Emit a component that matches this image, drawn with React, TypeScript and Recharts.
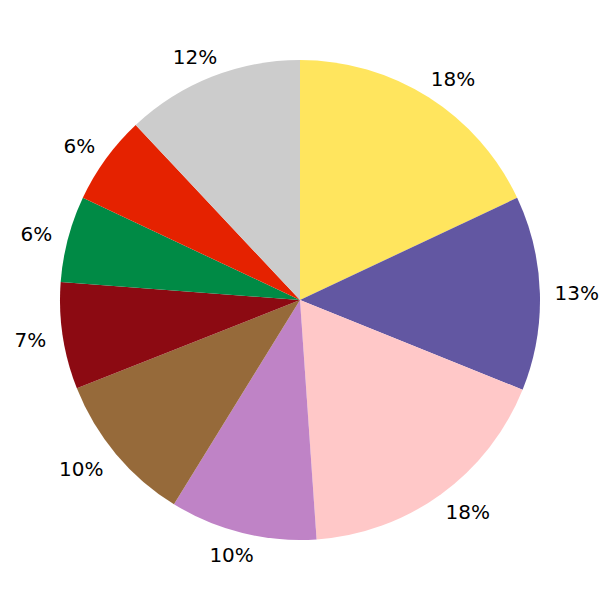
import React from "react";
import { PieChart, Pie, Cell } from "recharts";

const categories = ["A", "B", "C", "D", "E", "F", "G", "H", "I"];
const values = [18.0, 13.1, 17.8, 9.9, 10.2, 7.2, 5.8, 6.0, 12.0];
const labels = ["18%", "13%", "18%", "10%", "10%", "7%", "6%", "6%", "12%"];
const colors = ["#FFE55E", "#6257A2", "#FFC8C8", "#BF83C6", "#966A3A", "#8C0A12", "#008A45", "#E52200", "#CCCCCC"];

const data = categories.map((c, i) => ({ name: c, value: values[i], label: labels[i] }));

const WIDTH = 600;
const HEIGHT = 600;
const RAD = Math.PI / 180;
const FONT = 20;
const CAP = 0.73 * FONT;
const DIGIT_W = 0.636 * FONT;
const PCT_W = 0.95 * FONT;

const renderLabel = (props: any) => {
  const { cx, cy, midAngle, outerRadius, index } = props;
  const text = labels[index];
  const w = (text.length - 1) * DIGIT_W + PCT_W;
  const c = Math.cos(midAngle * RAD);
  const s = Math.sin(midAngle * RAD);
  let x = cx + c * (outerRadius + 1 + w);
  // keep the label inside the canvas
  x = Math.min(Math.max(x, w / 2 + 1), WIDTH - 1 - w / 2);
  const yc = cy - s * (outerRadius + 22);
  return (
    <text
      x={x}
      y={yc + CAP / 2}
      textAnchor="middle"
      fill="#000"
      fontSize={FONT}
      fontFamily="DejaVu Sans"
    >
      {text}
    </text>
  );
};

export default function App() {
  return (
    <div style={{ position: "absolute", left: 0, top: 0, width: WIDTH, height: HEIGHT, background: "#fff" }}>
      <PieChart width={WIDTH} height={HEIGHT} margin={{ top: 0, right: 0, bottom: 0, left: 0 }}>
        <Pie
          data={data}
          dataKey="value"
          cx={300}
          cy={300}
          outerRadius={240}
          startAngle={90}
          endAngle={-270}
          stroke="none"
          label={renderLabel}
          labelLine={false}
          isAnimationActive={false}
        >
          {data.map((d, i) => (
            <Cell key={d.name} fill={colors[i]} />
          ))}
        </Pie>
      </PieChart>
    </div>
  );
}
